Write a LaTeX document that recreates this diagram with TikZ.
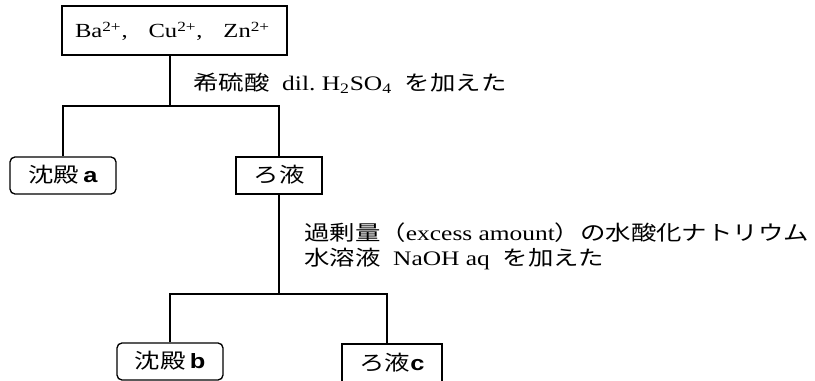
\documentclass[tikz,border=0pt]{standalone}
\usepackage{graphicx}
\usepackage{fontspec}
\setmainfont{Liberation Serif}
\newfontfamily\jp{Noto Sans CJK JP}
\newfontfamily\sansf{Liberation Sans}
\newcommand\lbl[1]{{\sansf\bfseries #1}}
\newcommand\wide[1]{\scalebox{1.23}[1]{#1}}
\begin{document}
\begin{tikzpicture}[x=0.75pt,y=-0.75pt,
  every node/.style={font=\fontsize{15.5}{19}\selectfont},
  sqbox/.style={draw,line width=1pt,inner sep=0pt,minimum height=37*0.75pt,text height=1.1em,text depth=0.12em},
  rbox/.style={sqbox,rounded corners=5*0.75pt},
  txt/.style={anchor=base west,inner sep=0pt},
  conn/.style={line width=1pt}]
\useasboundingbox (0,0) rectangle (815,381);
\clip (0,0) rectangle (815,381);
\node[sqbox,minimum width=225*0.75pt,minimum height=49*0.75pt] (top) at (174.5,30.5) {};
\node[anchor=base,inner sep=0pt,font=\fontsize{15}{18}\selectfont] (toptxt) at (172.5,38) {\wide{Ba\textsuperscript{2+},\hspace{0.85em}Cu\textsuperscript{2+},\hspace{0.85em}Zn\textsuperscript{2+}}};
\node[rbox,minimum width=106*0.75pt] (a) at (63,175.5) {\wide{{\jp 沈殿}\,\lbl{a}}};
\node[sqbox,minimum width=86*0.75pt] (f) at (279,175.5) {\wide{\jp ろ液}};
\node[rbox,minimum width=106*0.75pt] (b) at (170,361.5) {\wide{{\jp 沈殿}\,\lbl{b}}};
\node[sqbox,minimum width=100*0.75pt,minimum height=40*0.75pt] (c) at (392,364) {\wide{{\jp ろ液}\lbl{c}}};
\coordinate (j1) at (170,106);
\coordinate (j2) at (279,294);
\coordinate (cr) at (387,294);
\draw[conn] (top.south -| j1) -- (j1);
\draw[conn] (a.north) |- (j1) -| (f.north);
\draw[conn] (f.south) -- (j2);
\draw[conn] (b.north) |- (j2) -- (cr) -- (cr |- c.north);
\node[txt] (l1) at (193,91) {\wide{{\jp 希硫酸}\ \ dil.\ H\textsubscript{2}SO\textsubscript{4}\ \ {\jp を加えた}}};
\node[txt] (l2a) at (304,241) {\wide{{\jp 過剰量（}excess amount{\jp ）の水酸化ナトリウム}}};
\node[txt] (l2b) at (304,266) {\wide{{\jp 水溶液}\ \ NaOH aq\ \ {\jp を加えた}}};
\end{tikzpicture}
\end{document}
